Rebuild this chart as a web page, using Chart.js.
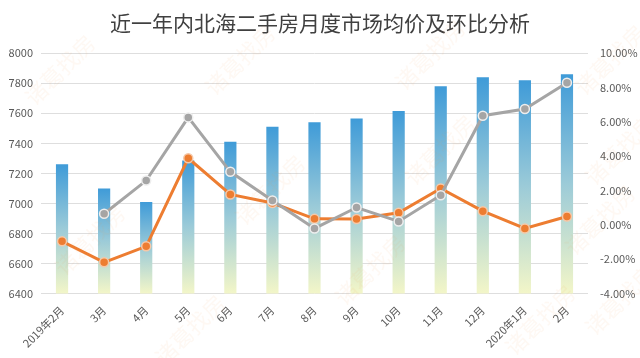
<!DOCTYPE html>
<html>
<head>
<meta charset="utf-8">
<script src="https://cdn.jsdelivr.net/npm/chart.js@4/dist/chart.umd.min.js"></script>
<style>
html,body{margin:0;padding:0;background:#fff;}
#wrap{width:640px;height:358px;position:relative;}
</style>
</head>
<body>
<div id="wrap"><canvas id="c" width="640" height="358"></canvas></div>
<script>
const TITLE = '近一年内北海二手房月度市场均价及环比分析';
const months = ['2019年2月','3月','4月','5月','6月','7月','8月','9月','10月','11月','12月','2020年1月','2月'];
const avgPrice = [7260, 7100, 7010, 7285, 7410, 7510, 7540, 7565, 7615, 7780, 7840, 7820, 7860];
const momPct = [-0.96, -2.18, -1.25, 3.88, 1.77, 1.27, 0.35, 0.34, 0.70, 2.12, 0.80, -0.21, 0.49];
const yoyPct = [null, 0.65, 2.58, 6.26, 3.09, 1.42, -0.21, 1.01, 0.20, 1.73, 6.36, 6.75, 8.28];
const leftTicks = [6400, 8000, 200];
const rightTicks = [-4, 10, 2];

const FONT = '"Noto Sans CJK SC", "Noto Sans", sans-serif';

function barGradient(ctx) {
  const chart = ctx.chart;
  const area = chart.chartArea;
  if (!area || ctx.raw == null) return '#4aa0d8';
  const y = chart.scales.y.getPixelForValue(ctx.raw);
  const g = chart.ctx.createLinearGradient(0, y, 0, area.bottom);
  g.addColorStop(0, '#3f9bd8');
  g.addColorStop(0.5, '#9ccbd8');
  g.addColorStop(1, '#f3f6c8');
  return g;
}

const watermark = {
  id: 'watermark',
  afterDatasetsDraw(chart) {
    const c = chart.ctx;
    c.save();
    c.font = '22px ' + FONT;
    c.fillStyle = 'rgba(240,150,90,0.07)';
    c.textAlign = 'center';
    c.textBaseline = 'middle';
    const pts = [[60,70],[240,60],[430,55],[610,60],[90,240],[270,190],[440,150],[620,150],[190,330],[370,270],[540,320],[620,300],[600,220]];
    pts.forEach(p => {
      c.save();
      c.translate(p[0], p[1]);
      c.rotate(-Math.PI / 4);
      c.fillText('诸葛找房', 0, 0);
      c.restore();
    });
    c.restore();
  }
};

new Chart(document.getElementById('c'), {
  data: {
    labels: months,
    datasets: [
      {
        type: 'line', label: '同比', data: yoyPct, yAxisID: 'y1', order: 1,
        borderColor: '#a5a5a5', backgroundColor: '#a5a5a5', borderWidth: 3,
        pointRadius: 4.5, pointBorderColor: '#eeeeee', pointBorderWidth: 1.5,
        pointBackgroundColor: '#a5a5a5', tension: 0, spanGaps: false
      },
      {
        type: 'line', label: '环比', data: momPct, yAxisID: 'y1', order: 2,
        borderColor: '#ed7d31', backgroundColor: '#ed7d31', borderWidth: 3,
        pointRadius: 4.5, pointBorderColor: '#f5c8a8', pointBorderWidth: 1.5,
        pointBackgroundColor: '#ed7d31', tension: 0
      },
      {
        type: 'bar', label: '均价', data: avgPrice, yAxisID: 'y', order: 3,
        backgroundColor: barGradient, barPercentage: 0.29, categoryPercentage: 1.0
      }
    ]
  },
  options: {
    responsive: false,
    animation: false,
    layout: { padding: { left: 0, right: 0, top: 0, bottom: 6 } },
    plugins: {
      legend: { display: false },
      tooltip: { enabled: false },
      title: {
        display: true, text: TITLE, color: '#404040',
        font: { family: FONT, size: 21, weight: 'normal' },
        padding: { top: 10, bottom: 18 }
      }
    },
    scales: {
      x: {
        grid: { display: false },
        border: { display: false },
        ticks: {
          color: '#595959', font: { family: FONT, size: 11 },
          maxRotation: 45, minRotation: 45, padding: 2, autoSkip: false
        }
      },
      y: {
        position: 'left', min: leftTicks[0], max: leftTicks[1],
        ticks: { stepSize: leftTicks[2], color: '#595959', font: { family: FONT, size: 11 }, padding: 8,
          callback: v => String(v) },
        grid: { color: '#dedede', drawTicks: false },
        border: { display: false },
        afterFit(s) { s.width = 41; }
      },
      y1: {
        position: 'right', min: rightTicks[0], max: rightTicks[1],
        ticks: {
          stepSize: rightTicks[2], color: '#595959', font: { family: FONT, size: 11 }, padding: 12,
          callback: v => v.toFixed(2) + '%'
        },
        grid: { display: false, drawTicks: false },
        border: { display: false },
        afterFit(s) { s.width = 52; }
      }
    }
  },
  plugins: [watermark]
});
</script>
</body>
</html>
